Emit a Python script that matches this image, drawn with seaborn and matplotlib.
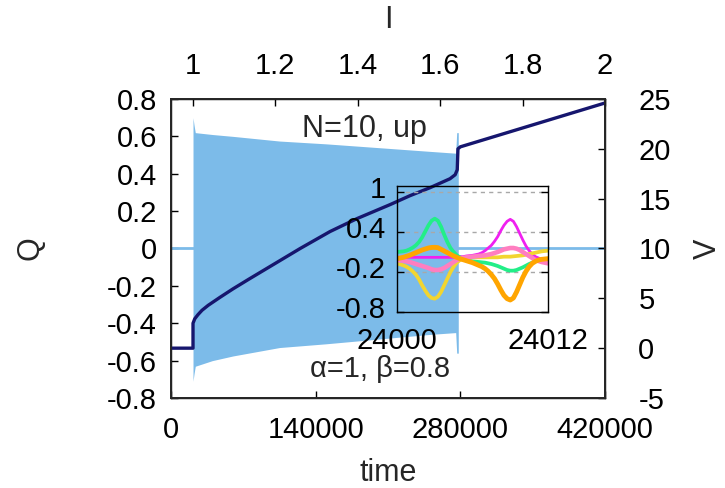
import numpy as np
import pandas as pd
import matplotlib
matplotlib.use("Agg")
import matplotlib.pyplot as plt
from matplotlib.transforms import ScaledTranslation
import seaborn as sns

sns.set_theme(style="white")
plt.rcParams["font.family"] = ["Liberation Sans", "DejaVu Sans"]
plt.rcParams["axes.unicode_minus"] = False
FS = 21
FL = 22

# ---- main panel data ----
# envelope of the dense Q oscillation (time, upper, lower)
env_time = [21300, 22300, 23500, 40000, 60000, 105000, 150000, 200000, 250000,
            275500, 276500, 278000]
env_upper = [0.70, 0.66, 0.62, 0.61, 0.60, 0.575, 0.56, 0.54, 0.52,
             0.51, 0.62, 0.62]
env_lower = [-0.71, -0.67, -0.63, -0.60, -0.575, -0.53, -0.51, -0.485, -0.46,
             -0.45, -0.56, -0.56]

# Q at rest before and after the oscillating regime
q_rest_time = [0, 420000]
q_rest_val = [0.0, 0.0]

# voltage V along the sweep
v_time = [0, 21300, 21300, 23000, 26000, 30000, 36000, 47400, 60000, 75000, 100000,
          125000, 153870, 180000, 211940, 231290, 250650, 270000, 275000, 277000,
          277700, 280000, 420000]
v_val = [0.0, 0.0, 2.5, 2.95, 3.35, 3.8, 4.3, 5.1, 5.95, 6.9, 8.45,
         10.0, 11.7, 13.0, 14.4, 15.3, 16.1, 17.0, 17.4, 17.9,
         20.0, 20.2, 24.6]

t_max = 420000
t_on = 21300

# ---- inset data: five oscillator charges, sampled every 0.25 ----
ins_t = [24000 + 0.25 * k for k in range(49)]
q_green = [0.10, 0.105, 0.11, 0.12,
           0.14, 0.165, 0.20, 0.25,
           0.32, 0.41, 0.50, 0.57,
           0.60, 0.57, 0.48, 0.36,
           0.25, 0.16, 0.10, 0.05,
           0.02, 0.00, -0.02, -0.03,
           -0.04, -0.045, -0.05, -0.055,
           -0.06, -0.07, -0.08, -0.095,
           -0.11, -0.13, -0.15, -0.17,
           -0.18, -0.18, -0.17, -0.15,
           -0.13, -0.105, -0.08, -0.06,
           -0.04, -0.03, -0.02, -0.015,
           -0.01]
q_orange = [0.00, 0.01, 0.02, 0.035,
            0.05, 0.07, 0.09, 0.11,
            0.13, 0.145, 0.16, 0.168,
            0.17, 0.165, 0.14, 0.115,
            0.09, 0.065, 0.04, 0.02,
            0.00, -0.015, -0.03, -0.045,
            -0.06, -0.08, -0.10, -0.12,
            -0.15, -0.19, -0.24, -0.30,
            -0.38, -0.47, -0.55, -0.60,
            -0.62, -0.59, -0.50, -0.39,
            -0.28, -0.19, -0.12, -0.07,
            -0.04, -0.02, -0.01, -0.005,
            0.00]
q_magenta = [0.02, 0.02, 0.02, 0.02,
             0.02, 0.02, 0.02, 0.02,
             0.02, 0.02, 0.02, 0.02,
             0.02, 0.02, 0.02, 0.02,
             0.02, 0.02, 0.02, 0.02,
             0.03, 0.03, 0.04, 0.045,
             0.05, 0.06, 0.07, 0.09,
             0.12, 0.16, 0.20, 0.26,
             0.33, 0.42, 0.50, 0.56,
             0.59, 0.56, 0.48, 0.38,
             0.28, 0.19, 0.12, 0.07,
             0.03, 0.01, -0.01, -0.015,
             -0.02]
q_pink = [-0.02, -0.025, -0.03, -0.04,
          -0.05, -0.065, -0.08, -0.095,
          -0.11, -0.125, -0.14, -0.16,
          -0.17, -0.17, -0.16, -0.14,
          -0.11, -0.08, -0.05, -0.02,
          0.00, 0.01, 0.02, 0.025,
          0.03, 0.035, 0.04, 0.045,
          0.05, 0.06, 0.07, 0.085,
          0.10, 0.12, 0.14, 0.15,
          0.16, 0.16, 0.15, 0.13,
          0.10, 0.07, 0.04, 0.01,
          -0.02, -0.035, -0.05, -0.06,
          -0.07]
q_yellow = [-0.07, -0.085, -0.10, -0.12,
            -0.15, -0.19, -0.24, -0.31,
            -0.40, -0.48, -0.55, -0.59,
            -0.60, -0.57, -0.50, -0.40,
            -0.30, -0.20, -0.12, -0.06,
            -0.02, -0.005, 0.01, 0.015,
            0.02, 0.02, 0.02, 0.02,
            0.02, 0.02, 0.02, 0.02,
            0.02, 0.025, 0.03, 0.03,
            0.03, 0.035, 0.04, 0.045,
            0.05, 0.06, 0.07, 0.08,
            0.09, 0.10, 0.11, 0.115,
            0.12]

BAND = "#7cbbe9"
NAVY = "#16166e"

fig = plt.figure(figsize=(7.25, 4.88), dpi=100)
ax = fig.add_axes([171 / 725, 1 - 398 / 488, 434 / 725, 299 / 488])

# oscillation band and rest line
sns.lineplot(x=q_rest_time, y=q_rest_val, ax=ax, color=BAND, lw=2, zorder=1)
ax.fill_between(env_time, env_lower, env_upper, color=BAND, lw=0, zorder=2)
ax.set_xlim(0, t_max)
ax.set_ylim(-0.8, 0.8)
ax.set_xticks([0, 140000, 280000, 420000])
ax.set_xticklabels(["0", "140000", "280000", "420000"])
ax.set_yticks(np.round(np.arange(-0.8, 0.81, 0.2), 1))
ax.set_yticklabels(["-0.8", "-0.6", "-0.4", "-0.2", "0", "0.2", "0.4", "0.6", "0.8"])
ax.tick_params(direction="in", length=5, width=1, labelsize=FS, top=True, right=True,
               bottom=True, left=True, colors="black")
ax.tick_params(axis="x", pad=13)
ax.tick_params(axis="y", pad=10)
ax.set_xlabel("time", fontsize=FL, labelpad=10)
ax.set_ylabel("Q", fontsize=FL, labelpad=44)
for s in ax.spines.values():
    s.set_color("black")
    s.set_linewidth(1)

# voltage on the right axis
axv = ax.twinx()
sns.lineplot(x=v_time, y=v_val, ax=axv, color=NAVY, lw=2.4, sort=False, estimator=None)
axv.set_ylim(-5, 25)
axv.set_yticks([-5, 0, 5, 10, 15, 20, 25])
axv.set_yticklabels(["-5", "0", "5", "10", "15", "20", "25"])
axv.tick_params(direction="in", length=5, width=1, labelsize=FS, pad=24, right=True, colors="black")
axv.set_ylabel("V", fontsize=FL, labelpad=16, rotation=90)
axv.grid(False)

# current I on the top axis
axi = ax.twiny()
i_left = 1 - t_on / (t_max - t_on)
axi.set_xlim(i_left, 2)
axi.set_xticks([1, 1.2, 1.4, 1.6, 1.8, 2])
axi.set_xticklabels(["1", "1.2", "1.4", "1.6", "1.8", "2"])
axi.tick_params(direction="in", length=5, width=1, labelsize=FS, pad=14, top=True, colors="black")
axi.set_xlabel("I", fontsize=FL, labelpad=17)
axi.grid(False)

ax.text(187000, 0.64, "N=10, up", fontsize=FL, ha="center", va="center", zorder=5)
ax.text(202000, -0.645, "α=1, β=0.8", fontsize=FS, ha="center", va="center", zorder=5)

# inset with the individual charges
axin = fig.add_axes([397 / 725, 1 - 312 / 488, 151 / 725, 126 / 488])
axin.patch.set_alpha(0)
ins = pd.DataFrame({"t": ins_t, "green": q_green, "orange": q_orange, "magenta": q_magenta,
                    "pink": q_pink, "yellow": q_yellow})
styles = [("magenta", "#f020f0", 2.0), ("green", "#22ee88", 2.7), ("yellow", "#f2d530", 2.7),
          ("pink", "#ff7ec0", 3.3), ("orange", "#ffa500", 3.5)]
for col, c, w in styles:
    sns.lineplot(data=ins, x="t", y=col, ax=axin, color=c, lw=w)
axin.set_xlim(24000, 24012)
axin.set_ylim(-0.8, 1.09)
axin.set_xticks([24000, 24012])
axin.set_xticklabels(["24000", "24012"])
axin.set_yticks([-0.8, -0.2, 0.4, 1.0])
axin.set_yticklabels(["-0.8", "-0.2", "0.4", "1"])
axin.tick_params(direction="in", length=5, width=1, labelsize=FS, left=True, right=True,
                 pad=8, colors="black")
axin.tick_params(axis="x", length=0, pad=11)
lift = ScaledTranslation(0, 5 / 100, fig.dpi_scale_trans)
for lab in axin.get_yticklabels():
    lab.set_transform(lab.get_transform() + lift)
for yv in [-0.2, 0.4, 1.0]:
    axin.axhline(yv, color="#a8a8a8", lw=1, ls=(0, (3, 3)), zorder=0)
axin.set_xlabel("")
axin.set_ylabel("")
for s in axin.spines.values():
    s.set_color("black")
    s.set_linewidth(1)

fig.savefig("out.png", dpi=100)
